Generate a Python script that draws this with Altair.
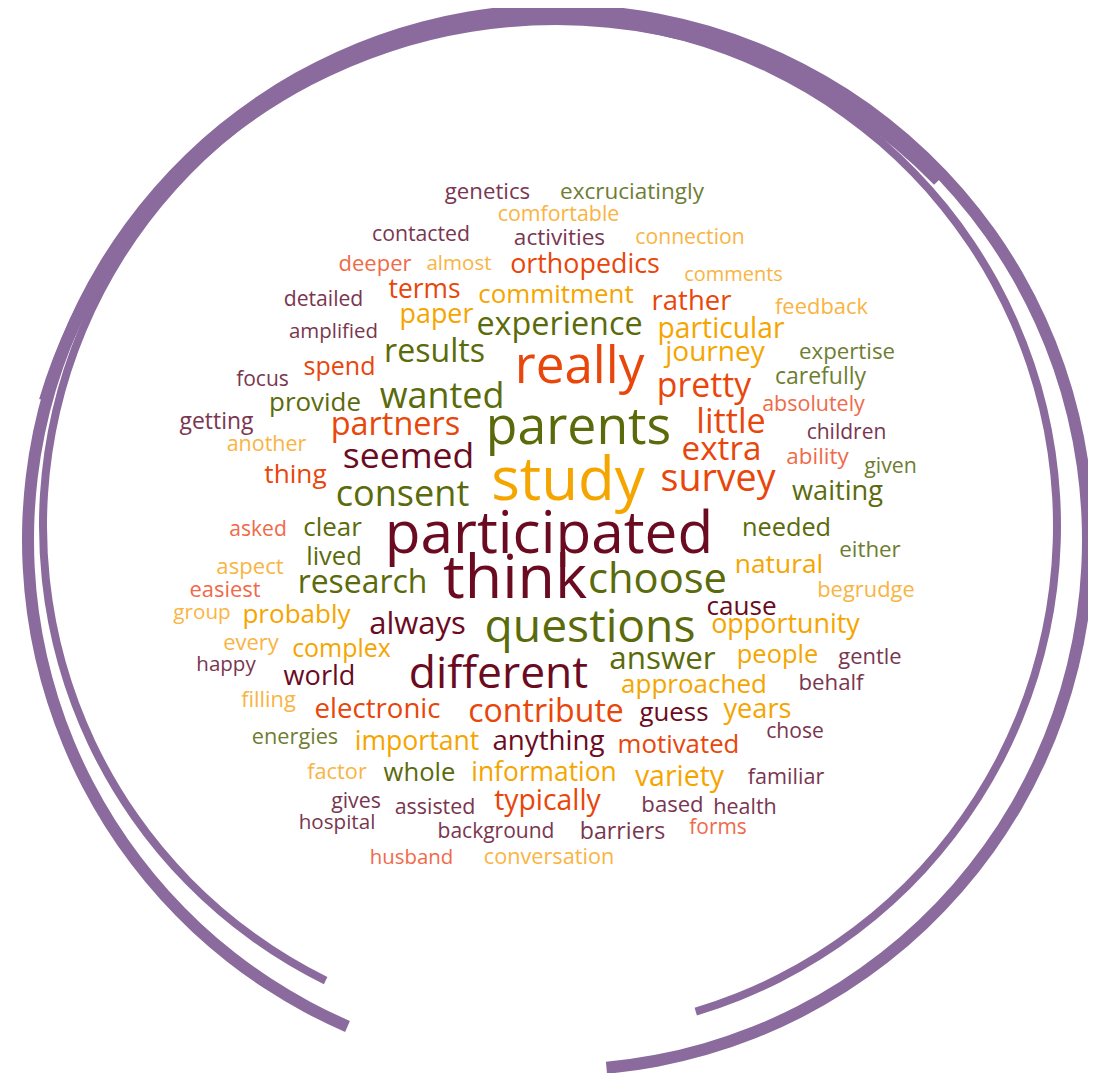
import altair as alt
import pandas as pd

# ---- word cloud data ----
words = ["genetics","excruciatingly","comfortable","contacted","activities","connection","deeper","almost",
 "orthopedics","comments","terms","commitment","rather","feedback","detailed","paper","experience","particular",
 "amplified","results","journey","expertise","spend","really","focus","pretty","carefully","wanted","provide",
 "absolutely","getting","partners","parents","little","children","another","seemed","extra","ability","given",
 "thing","study","survey","consent","waiting","asked","clear","participated","needed","either","lived","aspect",
 "research","think","choose","natural","easiest","begrudge","cause","group","probably","always","questions",
 "opportunity","every","complex","answer","people","gentle","happy","world","different","approached","behalf",
 "filling","electronic","contribute","guess","years","energies","important","anything","motivated","chose",
 "factor","whole","information","variety","familiar","gives","assisted","typically","based","health","hospital",
 "background","barriers","forms","husband","conversation"]

left = [443,557,495,370,512,633,337,425,507,682,387,475,650,773,282,398,473,655,287,382,663,797,302,512,235,655,773,
 377,267,760,178,328,482,695,805,225,340,680,785,863,263,488,658,333,790,228,302,378,740,838,305,215,295,440,585,733,
 188,815,705,172,240,367,480,708,222,290,607,735,837,195,282,405,618,797,240,312,465,638,722,250,352,490,615,765,306,
 382,468,633,746,330,393,492,640,712,297,435,578,688,368,481]
right = [532,707,622,472,607,747,413,493,663,785,462,637,733,870,365,475,646,787,380,487,767,897,377,647,290,753,868,
 507,363,867,255,463,675,767,888,308,477,763,850,918,328,648,778,472,885,288,363,720,833,902,363,285,430,590,730,825,
 262,917,778,232,353,468,700,863,280,393,718,820,903,257,357,592,770,865,297,443,627,710,793,340,482,607,742,825,368,
 457,620,726,826,382,477,603,705,778,377,557,667,748,455,617]
ymid = [192,192,215,235,238,238,264,264,265,275,290,295,302,307,300,315,325,330,332,352,353,352,367,368,380,387,377,
 397,403,405,422,425,428,423,433,445,457,450,457,467,475,482,480,495,492,530,528,535,528,550,557,567,583,580,580,565,
 590,590,607,613,615,625,628,625,643,650,660,655,657,665,677,675,685,683,700,710,712,713,710,737,742,742,745,732,772,
 773,773,777,778,802,808,802,805,808,823,832,832,828,858,857]
tone = ["mauve","lolive","lorange","mauve","mauve","lorange","salmon","lorange","red","lorange","red","gold","red",
 "lorange","mauve","gold","olive","gold","mauve","olive","gold","lolive","red","red","mauve","red","lolive","olive",
 "olive","salmon","mauve","red","olive","red","mauve","lorange","dmaroon","red","salmon","lolive","red","gold","red",
 "olive","olive","salmon","olive","dmaroon","olive","lolive","olive","lorange","olive","dmaroon","olive","gold",
 "salmon","lorange","dmaroon","lorange","gold","dmaroon","olive","gold","lorange","gold","olive","gold","mauve",
 "mauve","dmaroon","dmaroon","gold","mauve","lorange","red","red","dmaroon","gold","lolive","gold","dmaroon","red",
 "mauve","lorange","olive","gold","gold","mauve","mauve","mauve","red","mauve","mauve","mauve","mauve","mauve",
 "salmon","salmon","lorange"]

palette = {"dmaroon": "#6b0b22", "olive": "#5b6b0b", "lolive": "#6e7d32", "gold": "#f5a500",
           "lorange": "#f9b443", "red": "#e8460a", "salmon": "#f06a4a", "mauve": "#7a3650"}

# Open Sans advance widths (em) to turn measured word widths into font sizes
cw = {'a': .556, 'b': .613, 'c': .476, 'd': .613, 'e': .561, 'f': .339, 'g': .548, 'h': .614, 'i': .253,
      'j': .253, 'k': .525, 'l': .253, 'm': .930, 'n': .614, 'o': .604, 'p': .613, 'q': .613, 'r': .408,
      's': .477, 't': .353, 'u': .614, 'v': .501, 'w': .778, 'x': .524, 'y': .502, 'z': .477}

def em_width(w):
    return sum(cw.get(c, .55) for c in w)

df = pd.DataFrame({
    "word": words,
    "x": [(l + r) / 2 for l, r in zip(left, right)],
    "y": ymid,
    "fs": [0.96 * (r - l) / em_width(w) for w, l, r in zip(words, left, right)],
    "col": [palette[t] for t in tone],
})

W, H = 1080, 1065
xs = alt.Scale(domain=[8, 8 + W], nice=False, zero=False)
ys = alt.Scale(domain=[8, 8 + H], nice=False, zero=False, reverse=True)

text = alt.Chart(df).mark_text(font="Open Sans", baseline="middle", align="center").encode(
    x=alt.X("x:Q", scale=xs, axis=None),
    y=alt.Y("y:Q", scale=ys, axis=None),
    text="word:N",
    size=alt.Size("fs:Q", scale=None),
    color=alt.Color("col:N", scale=None),
)

# ---- hand-drawn purple ring, approximated by arcs ----
ring_cx = [558, 558, 550, 550, 556, 556]
ring_cy = [540, 540, 526, 526, 552, 552]
ring_ro = [536, 536, 511, 511, 539, 539]
ring_ri = [524, 524, 503, 503, 527, 527]
ring_t0 = [3.55, 0.0, 3.6, 0.0, 5.0, 0.0]
ring_t1 = [6.2832, 3.05, 6.2832, 2.85, 6.2832, 0.8]

layers = []
for cx, cy, ro, ri, t0, t1 in zip(ring_cx, ring_cy, ring_ro, ring_ri, ring_t0, ring_t1):
    d = pd.DataFrame({"cx": [cx], "cy": [cy]})
    layers.append(
        alt.Chart(d).mark_arc(radius=ro, radius2=ri, theta=t0, theta2=t1, color="#8b6b9d").encode(
            x=alt.X("cx:Q", scale=xs, axis=None),
            y=alt.Y("cy:Q", scale=ys, axis=None),
        )
    )

chart = alt.layer(*layers, text).properties(
    width=W, height=H, padding=0, autosize=alt.AutoSizeParams(type="none"), background="white"
).configure_view(stroke=None)

chart.save("out.html", embed_options={"renderer": "svg", "actions": False})
